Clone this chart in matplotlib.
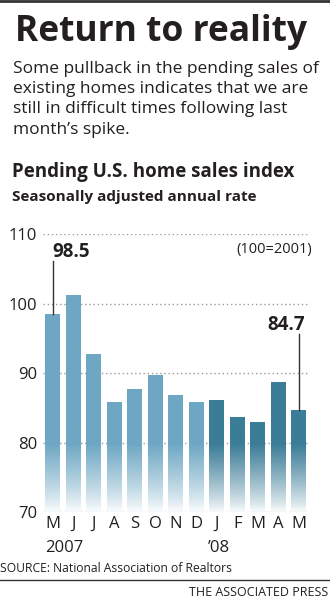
import numpy as np
import matplotlib.pyplot as plt
from matplotlib.colors import to_rgb

months = ["M", "J", "J", "A", "S", "O", "N", "D", "J", "F", "M", "A", "M"]
values = [98.5, 101.3, 92.7, 85.8, 87.7, 89.8, 86.9, 85.8, 86.1, 83.7, 82.9, 88.8, 84.7]
years = ["2007"] * 8 + ["2008"] * 5
yticks = [70, 80, 90, 100, 110]

light = "#6ea7c3"
dark = "#3b7c97"
ink = "#231f20"

plt.rcParams["font.family"] = ["Open Sans", "DejaVu Sans"]

fig = plt.figure(figsize=(3.3, 6.0), dpi=100)
fig.patch.set_facecolor("white")

# header
fig.add_artist(plt.Line2D([0, 1], [0.998, 0.998], color="#333333", lw=2))
fig.text(0.045, 0.947, "Return to reality", fontsize=25.5, fontweight="bold",
         color=ink, va="center", ha="left")
sub = ("Some pullback in the pending sales of\n"
       "existing homes indicates that we are\n"
       "still in difficult times following last\n"
       "month\u2019s spike.")
fig.text(0.04, 0.899, sub, fontsize=12.5, color=ink, va="top", ha="left",
         linespacing=1.37)
fig.text(0.035, 0.713, "Pending U.S. home sales index", fontsize=13.5,
         fontweight="bold", color=ink, va="center", ha="left")
fig.text(0.035, 0.672, "Seasonally adjusted annual rate", fontsize=11,
         fontweight="bold", color=ink, va="center", ha="left")

ax = fig.add_axes([0.1294, 0.1467, 0.81, 0.4625])
x = np.arange(len(values))
bars = ax.bar(x, values, width=0.73, bottom=0, color="none", zorder=2)

ax.set_xlim(-0.5, 12.54)
ax.set_ylim(70, 110)

# vertical fade to white near the baseline
yy = np.linspace(70, 110, 400)
t = np.clip((yy - 70.3) / 9.5, 0, 1) ** 0.85
alpha = 0.06 + 0.94 * t
for i, b in enumerate(bars):
    c = to_rgb(dark if years[i] == "2008" else light)
    img = np.ones((len(yy), 1, 3))
    for k in range(3):
        img[:, 0, k] = 1 - alpha * (1 - c[k])
    im = ax.imshow(img, extent=[x[i] - 0.5, x[i] + 0.5, 70, 110],
                   origin="lower", aspect="auto", zorder=2)
    im.set_clip_path(b)

for yv in yticks:
    ax.axhline(yv, color="#9a9a9a", lw=1, ls=(0, (1, 2)), zorder=1)

ax.set_yticks(yticks)
ax.set_yticklabels([str(v) for v in yticks], fontsize=12, color=ink)
ax.tick_params(axis="y", length=0, pad=4)
ax.set_xticks(x)
ax.set_xticklabels(months, fontsize=12, color=ink)
ax.tick_params(axis="x", length=0, pad=3)
for s in ax.spines.values():
    s.set_visible(False)

# year labels
ax.text(x[0] - 0.4, 64.8, "2007", fontsize=12, color=ink, ha="left", va="center")
ax.text(x[8] + 0.1, 64.8, "\u201908", fontsize=12, color=ink, ha="center", va="center")

# callouts
ax.text(x[0] - 0.05, 107.5, "98.5", fontsize=13.5, fontweight="bold", color=ink,
        ha="left", va="center")
ax.plot([x[0], x[0]], [106.2, values[0]], color="#333333", lw=1, zorder=3)
ax.text(x[12] + 0.3, 96.9, "84.7", fontsize=13.5, fontweight="bold", color=ink,
        ha="right", va="center")
ax.plot([x[12], x[12]], [95.6, values[12]], color="#333333", lw=1, zorder=3)
ax.text(12.64, 107.8, "(100=2001)", fontsize=10.5, color=ink, ha="right", va="center")

# footer
fig.text(0.0, 0.052, "SOURCE: National Association of Realtors", fontsize=8.7,
         color=ink, ha="left", va="center")
fig.add_artist(plt.Line2D([0, 1], [0.033, 0.033], color="#333333", lw=1))
fig.text(0.994, 0.013, "THE ASSOCIATED PRESS", fontsize=9, color=ink,
         ha="right", va="center")

plt.savefig("out.png", dpi=100)
